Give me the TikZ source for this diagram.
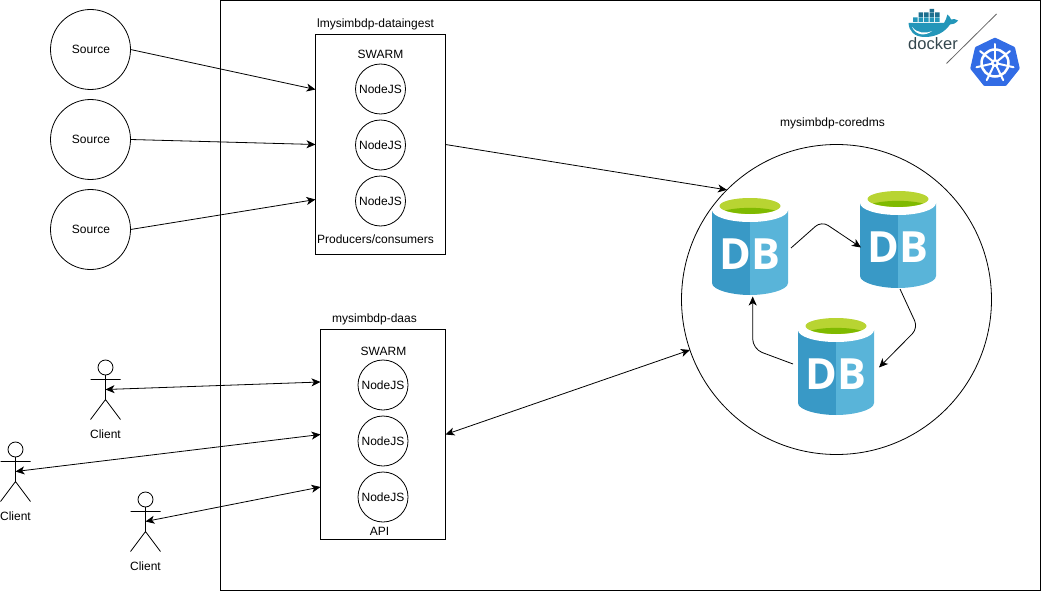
\documentclass[tikz,border=0pt]{standalone}
\usepackage{fontspec}
\setmainfont{Liberation Sans}
\newfontfamily\dbfont{Open Sans}
\usetikzlibrary{arrows.meta,calc,positioning}
\definecolor{dbdark}{HTML}{3999C6}
\definecolor{dblight}{HTML}{59B4D9}
\definecolor{dbgreen}{HTML}{B8D432}
\definecolor{dbgreendark}{HTML}{7FBA00}
\definecolor{whale}{HTML}{2396B9}
\definecolor{whaledark}{HTML}{1C6F8F}
\definecolor{dockertext}{HTML}{33464D}
\definecolor{kubeblue}{HTML}{326CE5}
\newcommand\sourcetext{\hspace{1pt}\raisebox{-0.7pt}{Source}}
\tikzset{
	x=1pt,y=-1pt,
	every node/.style={font=\fontsize{12}{14}\selectfont,inner sep=0pt,outer sep=0pt},
	flow/.style={-{Stealth[length=9pt,width=8pt,inset=2.5pt]},line width=0.8pt},
	flowboth/.style={{Stealth[length=9pt,width=8pt,inset=2.5pt]}-{Stealth[length=9pt,width=8pt,inset=2.5pt]},line width=0.8pt},
	sourcenode/.style={draw,circle,minimum size=80pt,line width=0.8pt},
	nodejs/.style={draw,circle,minimum size=50pt,line width=0.8pt},
	serverbox/.style={draw,rectangle,line width=0.8pt},
	pics/actorfig/.style={code={
		\draw[line width=0.8pt] (0,-22) circle [radius=7.5];
		\draw[line width=0.8pt] (0,-14.5) -- (0,10) (-15,-10) -- (15,-10) (-15,30) -- (0,10) -- (15,30);
		\coordinate (-mid) at (0,0);
		\node (-label) at (0,44.5) {Client};
	}},
	pics/dbicon/.style={code={
		% origin is the middle of the top edge
		\fill[dbdark] (-38,12) -- (-38,85) .. controls (-38,92) and (-18,97) .. (0,97) -- (0,12) -- cycle;
		\fill[dblight] (38,12) -- (38,85) .. controls (38,92) and (18,97) .. (0,97) -- (0,12) -- cycle;
		\fill[white] (0,12) ellipse [x radius=38,y radius=12];
		\fill[dbgreen] (0,8) ellipse [x radius=30.5,y radius=8];
		\fill[dbgreendark] (-25,12.5) .. controls (-12,9) and (12,9) .. (25,12.5) .. controls (12,17) and (-12,17) .. (-25,12.5) -- cycle;
		\node[minimum width=76pt,minimum height=97pt] (-box) at (0,48.5) {};
		\node[font=\dbfont\bfseries\fontsize{43}{43}\selectfont,text=white] (-text) at (0,56.5) {DB};
	}}
}

\begin{document}
\begin{tikzpicture}
	\useasboundingbox (0,0) rectangle (1041,591);
	\draw[line width=0.8pt] (220.5,0.5) rectangle (1040.5,590.5);

	% sources
	\node[sourcenode] (source1) at (90.5,49.5) {\sourcetext};
	\node[sourcenode] (source2) at (90.5,139.5) {\sourcetext};
	\node[sourcenode] (source3) at (90.5,229.5) {\sourcetext};

	% data ingest
	\node[serverbox,minimum width=130pt,minimum height=220pt] (ingest) at (380.5,144.5) {};
	\node (ingesttitle) at (375.5,24.7) {lmysimbdp-dataingest};
	\node (ingestswarm) at (380.5,54) {SWARM};
	\node[nodejs] (ingest1) at (380.5,89) {NodeJS};
	\node[nodejs] (ingest2) at (380.5,145) {NodeJS};
	\node[nodejs] (ingest3) at (380.5,201) {NodeJS};
	\node (ingestrole) at (375.5,239) {Producers/consumers};

	% daas
	\node[serverbox,minimum width=125pt,minimum height=210pt] (daas) at (383,434.5) {};
	\node (daastitle) at (374.5,319.7) {mysimbdp-daas};
	\node (daasswarm) at (383.5,351) {SWARM};
	\node[nodejs] (daas1) at (383,385) {NodeJS};
	\node[nodejs] (daas2) at (383,441) {NodeJS};
	\node[nodejs] (daas3) at (383,497) {NodeJS};
	\node (daasapi) at (379.5,531) {API};

	% core
	\node[draw,circle,minimum size=310pt,line width=0.8pt] (core) at (836.5,299.5) {};
	\node (coretitle) at (832.5,123.7) {mysimbdp-coredms};
	\pic (db1) at (750,198) {dbicon};
	\pic (db2) at (898,191) {dbicon};
	\pic (db3) at (836,318) {dbicon};

	% clients
	\pic (client1) at (105.5,389.5) {actorfig};
	\pic (client2) at (15.5,471.5) {actorfig};
	\pic (client3) at (145.5,521.5) {actorfig};

	% connectors
	\draw[flow] (source1.east) -- ($(ingest.north west)!0.25!(ingest.south west)$);
	\draw[flow] (source2.east) -- (ingest.west);
	\draw[flow] (source3.east) -- ($(ingest.north west)!0.75!(ingest.south west)$);
	\draw[flow] (ingest.east) -- (core.135);
	\draw[flowboth] (daas.east) -- (core.199);
	\draw[flowboth] (client1-mid) -- ($(daas.north west)!0.25!(daas.south west)$);
	\draw[flowboth] (client2-mid) -- (daas.west);
	\draw[flowboth] (client3-mid) -- ($(daas.north west)!0.75!(daas.south west)$);
	\draw[flow,rounded corners=8pt] ([xshift=3pt,yshift=-1.5pt]db1-box.east) -- (821.5,221) -- ([xshift=1pt,yshift=-8pt]db2-box.west);
	\draw[flow,rounded corners=8pt] ([xshift=2pt,yshift=-1pt]db2-box.south) -- (918,328) -- ([xshift=5pt,yshift=-1pt]db3-box.east);
	\draw[flow,rounded corners=10pt] ([xshift=-5pt,yshift=2.5pt]db3-box.west) -- (752.7,349) -- ([xshift=2.7pt,yshift=-1.5pt]db1-box.south);

	% docker logo
	\fill[whale] (913,22) rectangle (917.5,17.5) (918.5,22) rectangle (923,17.5) (924,22) rectangle (928.5,17.5) (929.5,22) rectangle (934,17.5) (935,22) rectangle (939.5,17.5);
	\fill[whaledark] (918.5,17) rectangle (923,12.5) (924,17) rectangle (928.5,12.5) (929.5,17) rectangle (934,12.5) (929.5,12) rectangle (934,9) (935,17) rectangle (939.5,12.5);
	\fill[whale] (908.5,23) -- (944,23) .. controls (946,21) and (946,18) .. (947.5,14.5) .. controls (949.5,16) and (950.5,18) .. (951,19.5) .. controls (953,18.5) and (956,19) .. (958,20.5) .. controls (955.5,23.5) and (953,24.5) .. (950,24.5) .. controls (945,32) and (936,37) .. (925,37) .. controls (914,37) and (909,31) .. (908.5,23) -- cycle;
	\fill[white] (912,27) .. controls (917,33) and (925,34) .. (932,31) .. controls (926,36) and (916,36) .. (912,27) -- cycle;
	\node[text=dockertext,font=\fontsize{16.5}{18}\selectfont] (dockerlabel) at (933,43.5) {docker};
	\coordinate (slashlow) at (946.5,63.5);
	\coordinate (slashhigh) at (996.5,14);
	\draw[line width=0.8pt,color=black!60] (slashlow) -- (slashhigh);

	% kubernetes logo
	\begin{scope}[shift={(995,63)}]
		\fill[kubeblue,draw=kubeblue,line width=3.5pt,line join=round] (-90:23.5) -- (-38.57:23.5) -- (12.86:23.5) -- (64.29:23.5) -- (115.71:23.5) -- (167.14:23.5) -- (218.57:23.5) -- cycle;
		\draw[white,line width=2.5pt] (0,0) circle [radius=13.5];
		\foreach \a in {-90,-38.57,12.86,64.29,115.71,167.14,218.57}{
			\draw[white,line width=2pt,line cap=round] (\a:2.5) -- (\a:19);
		}
		\fill[white] (0,0) circle [radius=4];
		\fill[kubeblue] (0,0) circle [radius=1.5];
	\end{scope}
\end{tikzpicture}
\end{document}
